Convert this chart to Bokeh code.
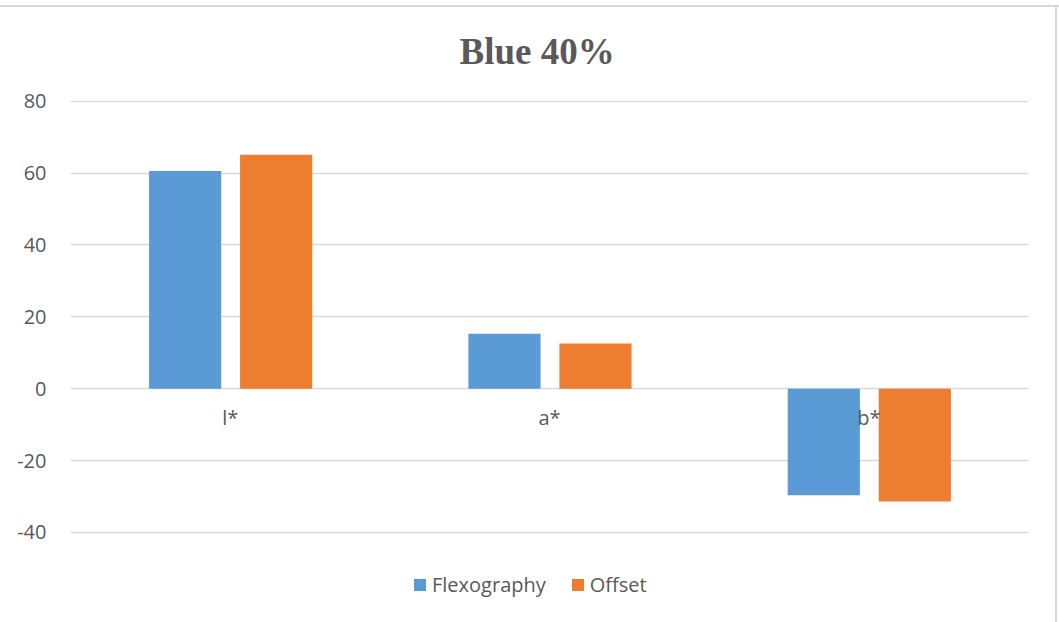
from bokeh.plotting import figure
from bokeh.models import (ColumnDataSource, FixedTicker, Legend, LegendItem, Range1d,
                          FactorRange, PrintfTickFormatter)
from bokeh.transform import dodge
from bokeh.core.properties import value
from bokeh.embed import file_html
from bokeh.resources import INLINE

# CIELAB components for the 40% blue patch
categories = ["l*", "a*", "b*"]
flexography = [60.6, 15.3, -29.7]
offset = [65.1, 12.6, -31.4]
y_ticks = [-40, -20, 0, 20, 40, 60, 80]

FLEXO_COLOR = "#5B9BD5"
OFFSET_COLOR = "#ED7D31"
TEXT_COLOR = "#595959"
GRID_COLOR = "#D9D9D9"

source = ColumnDataSource(data=dict(cat=categories, flexo=flexography, offset=offset,
                                    zero=[0] * len(categories)))

# the lower part of the value range leaves room for the legend under the -40 line
p = figure(width=1059, height=622, x_range=FactorRange(*categories),
           y_range=Range1d(-62.3, 80.2), output_backend="svg", toolbar_location=None,
           min_border_left=70, min_border_right=31, min_border_top=100, min_border_bottom=10)

p.outline_line_color = None
p.background_fill_color = "white"
p.border_fill_color = None
# thin chart-area frame along the top and right edges
p.styles = {
    "background-color": "white",
    "background-image": "linear-gradient(#D9D9D9, #D9D9D9), linear-gradient(#D9D9D9, #D9D9D9)",
    "background-size": "100% 2px, 2px calc(100% - 5px)",
    "background-position": "0 5px, 1055px 5px",
    "background-repeat": "no-repeat",
}

# title
p.title.text = "Blue 40%"
p.title.align = "left"
p.title.offset = 389
p.title.text_font = "Liberation Serif"
p.title.text_font_style = "bold"
p.title.text_font_size = "37px"
p.title.text_color = TEXT_COLOR
p.title.standoff = 57

# bars
r_flexo = p.vbar(x=dodge("cat", -0.141, range=p.x_range), top="flexo", width=0.226,
                 source=source, fill_color=FLEXO_COLOR, line_color=None)
r_offset = p.vbar(x=dodge("cat", 0.144, range=p.x_range), top="offset", width=0.226,
                  source=source, fill_color=OFFSET_COLOR, line_color=None)

# category names sit just under the zero line
p.text(x="cat", y="zero", text="cat", source=source, y_offset=29,
       text_align="center", text_baseline="middle", text_font=value("Open Sans"),
       text_font_size="20px", text_color=TEXT_COLOR)

# axes
p.xaxis.visible = False
p.xgrid.grid_line_color = None

p.yaxis.ticker = FixedTicker(ticks=y_ticks)
p.yaxis.formatter = PrintfTickFormatter(format="%d")
p.yaxis.axis_line_color = None
p.yaxis.major_tick_line_color = None
p.yaxis.minor_tick_line_color = None
p.yaxis.major_label_standoff = 18
p.yaxis.major_label_text_font = "Open Sans"
p.yaxis.major_label_text_font_size = "20px"
p.yaxis.major_label_text_color = TEXT_COLOR
p.ygrid.ticker = FixedTicker(ticks=y_ticks)
p.ygrid.grid_line_color = GRID_COLOR
p.ygrid.grid_line_width = 1.3

legend = Legend(items=[LegendItem(label="Flexography", renderers=[r_flexo]),
                       LegendItem(label="Offset", renderers=[r_offset])],
                orientation="horizontal", location=(342, 14),
                label_text_font="Open Sans", label_text_font_size="20px",
                label_text_color=TEXT_COLOR, glyph_width=15, glyph_height=15,
                label_standoff=5, spacing=24, padding=5, margin=0,
                border_line_color=None, background_fill_alpha=0)
p.add_layout(legend)

open("out.html", "w").write(file_html(p, INLINE))
